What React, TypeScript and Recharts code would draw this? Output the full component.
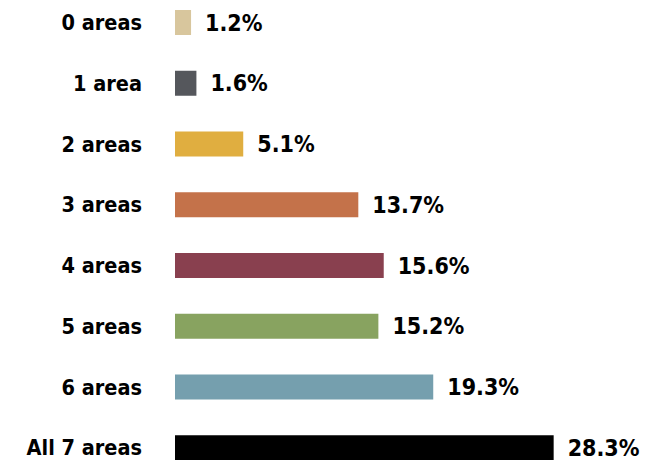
import React from "react";
import { BarChart, Bar, XAxis, YAxis, Cell, LabelList } from "recharts";

const categories = ["0 areas", "1 area", "2 areas", "3 areas", "4 areas", "5 areas", "6 areas", "All 7 areas"];
const values = [1.2, 1.6, 5.1, 13.7, 15.6, 15.2, 19.3, 28.3];
const colors = ["#D8C69D", "#55575C", "#E0AE40", "#C4724A", "#89404F", "#88A360", "#759FAE", "#000000"];

const data = categories.map((name, i) => ({ name, value: values[i] }));

const FONT = "'DejaVu Sans Condensed', 'DejaVu Sans', sans-serif";

export default function App() {
  return (
    <div style={{ position: "absolute", left: 0, top: 0, width: 650, height: 460, overflow: "hidden", background: "#fff" }}>
      <div style={{ position: "absolute", left: 0, top: -8 }}>
        <BarChart
          width={650}
          height={486}
          data={data}
          layout="vertical"
          margin={{ top: 0, right: 0, bottom: 0, left: 0 }}
          barCategoryGap={0}
        >
          <XAxis type="number" domain={[0, 35.5]} allowDataOverflow hide />
          <YAxis
            type="category"
            dataKey="name"
            width={175}
            axisLine={false}
            tickLine={false}
            tickSize={0}
            tickMargin={33}
            interval={0}
            tick={{ fill: "#000", fontSize: 21.5, fontWeight: 700, fontFamily: FONT }}
          />
          <Bar dataKey="value" barSize={25} isAnimationActive={false}>
            {data.map((d, i) => (
              <Cell key={d.name} fill={colors[i]} />
            ))}
            <LabelList
              dataKey="value"
              position="right"
              offset={14}
              formatter={(v: number) => `${v}%`}
              style={{ fill: "#000", fontSize: 23, fontWeight: 700, fontFamily: FONT }}
            />
          </Bar>
        </BarChart>
      </div>
    </div>
  );
}
